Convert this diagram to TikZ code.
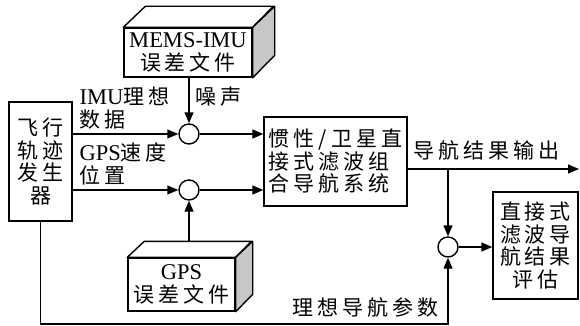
\documentclass[tikz,border=0pt]{standalone}
\usepackage{fontspec}
\setmainfont{Liberation Serif}
\newfontfamily\cjkf[LetterSpace=19]{Noto Sans CJK SC}
\newcommand\cj[1]{{\fontsize{21}{22.5}\selectfont\cjkf #1}}
\usetikzlibrary{arrows.meta}
\begin{document}
\begin{tikzpicture}[x=1pt,y=-1pt,
  every path/.style={line width=1.4pt},
  fnt/.style={font=\fontsize{22.5}{22.5}\selectfont},
  box/.style={draw, line width=1.4pt, inner sep=0pt, fnt},
  lbl/.style={inner sep=0pt, fnt, anchor=west},
  sumc/.style={circle, draw, line width=1.4pt, minimum size=20pt, inner sep=0pt},
  arr/.style={-{Triangle[length=11pt,width=9pt]}, line width=1.4pt},
  side/.style={fill=black!22, draw, line width=1.4pt, line join=round},
  topf/.style={fill=white, draw, line width=1.4pt, line join=round}]
\useasboundingbox (0,0) rectangle (580,326);

% generator
\node[box, minimum width=63pt, minimum height=119pt, align=center] (gen) at (40.5,161.5) {\cj{飞行}\\\cj{轨迹}\\\cj{发生}\\\cj{器}};

% MEMS-IMU 3D box
\node[box, minimum width=128pt, minimum height=49pt, align=center] (mems) at (188,52.5) {MEMS-IMU\\[1pt]\cj{误差文件}};
\draw[topf] (mems.north west) -- ++(22,-21) -- ++(128,0) -- (mems.north east) -- cycle;
\draw[side] (mems.north east) -- ++(22,-21) -- ++(0,49) -- (mems.south east) -- cycle;

% GPS 3D box
\node[box, minimum width=107pt, minimum height=53pt, align=center] (gps) at (181.5,284.5) {GPS\\[1pt]\cj{误差文件}};
\draw[topf] (gps.north west) -- ++(17,-16) -- ++(107,0) -- (gps.north east) -- cycle;
\draw[side] (gps.north east) -- ++(17,-16) -- ++(0,53) -- (gps.south east) -- cycle;

% summing junctions
\node[sumc] (s1) at (189,134) {};
\node[sumc] (s2) at (189,190) {};
\node[sumc] (s3) at (448,247) {};

% main system
\node[box, minimum width=143pt, minimum height=89pt, align=left] (main) at (335.5,161.5) {\cj{惯性/卫星直}\\\cj{接式滤波组}\\\cj{合导航系统}};

% evaluation
\node[box, minimum width=85pt, minimum height=107pt, align=center] (eval) at (535.5,245.5) {\cj{直接式}\\\cj{滤波导}\\\cj{航结果}\\\cj{评估}};

% labels
\node[lbl] (l1) at (79,96) {IMU\cj{理想}};
\node[lbl] (l2) at (79,120) {\cj{数据}};
\node[lbl] (l3) at (195,97) {\cj{噪声}};
\node[lbl] (l4) at (79,152) {GPS\cj{速度}};
\node[lbl] (l5) at (79,175) {\cj{位置}};
\node[lbl] (l6) at (413,150) {\cj{导航结果输出}};
\node[lbl] (l7) at (292,307) {\cj{理想导航参数}};

% coordinates
\coordinate (gpstop) at (s2 |- 0,242);
\coordinate (outend) at (579,169);
\coordinate (outstart) at (main.east |- outend);
\coordinate (br) at (s3 |- outend);
\coordinate (bl) at (gen.south |- 0,324);
\coordinate (br2) at (s3 |- 0,324);

% connectors
\draw[arr] (gen.east |- s1) -- (s1);
\draw[arr] (s1 |- mems.south) -- (s1);
\draw[arr] (s1) -- (main.west |- s1);
\draw[arr] (gen.east |- s2) -- (s2);
\draw[arr] (gpstop) -- (s2);
\draw[arr] (s2) -- (main.west |- s2);
\draw[arr] (outstart) -- (outend);
\draw[arr] (br) -- (s3);
\draw[arr] (s3) -- (eval.west |- s3);
\draw[arr] (gen.south) -- (bl) -- (br2) -- (s3);
\end{tikzpicture}
\end{document}
